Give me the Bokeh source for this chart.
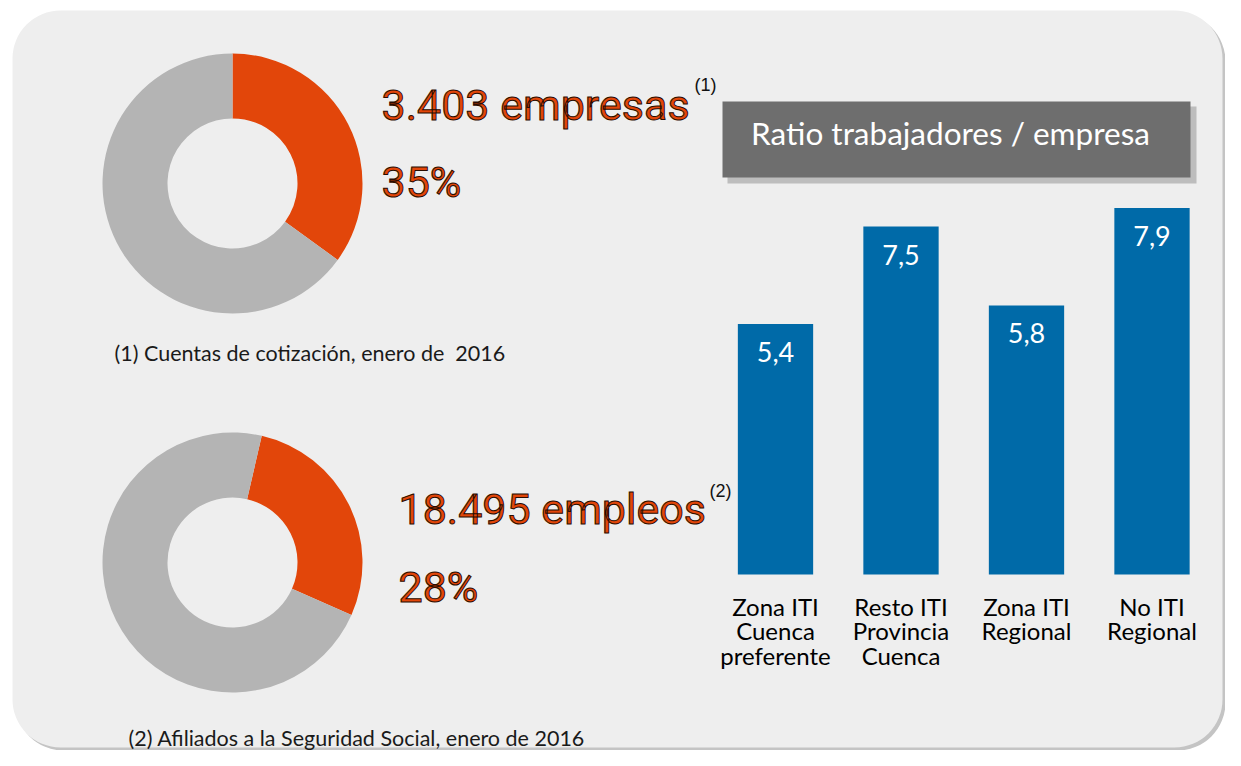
import math
from bokeh.plotting import figure
from bokeh.models import Range1d, BoxAnnotation, ColumnDataSource
from bokeh.core.properties import value
from bokeh.embed import file_html
from bokeh.resources import INLINE

# ---------------- data ----------------
empresas_total = "3.403 empresas"
empresas_pct = [35, 65]          # share ITI / rest
empleos_total = "18.495 empleos"
empleos_pct = [28, 72]
note_1 = "(1) Cuentas de cotización, enero de\u00a0 2016"
note_2 = "(2) Afiliados a la Seguridad Social, enero de 2016"

chart_title = "Ratio trabajadores / empresa"
categories = ["Zona ITI\nCuenca\npreferente", "Resto ITI\nProvincia\nCuenca",
              "Zona ITI\nRegional", "No ITI\nRegional"]
ratios = [5.4, 7.5, 5.8, 7.9]

# ---------------- layout helpers (page pixels -> figure units) ----------------
W, H = 1225, 750
def fx(ix):
    return ix
def fy(iy):
    return H - iy

ORANGE = "#e2460a"
GRAY = "#b4b4b4"
BLUE = "#006aa8"

p = figure(width=W, height=H, x_range=Range1d(0, W), y_range=Range1d(0, H),
           x_axis_type=None, y_axis_type=None, output_backend="svg",
           toolbar_location=None, min_border=0, outline_line_color=None,
           background_fill_color="white", border_fill_color="white")

def put_text(x, y, txt, font, size, color, align="left", **kw):
    p.text(x=[fx(x)], y=[fy(y)], text=[txt], text_font=value(font),
           text_font_size=size, text_color=color, text_align=align,
           text_baseline="middle", **kw)

# background panel with shadow
p.add_layout(BoxAnnotation(left=fx(15), right=fx(1225), top=fy(13), bottom=fy(750),
                           fill_color="#8a8a8a", fill_alpha=0.5, line_color=None,
                           border_radius=48, level="underlay"))
p.add_layout(BoxAnnotation(left=fx(12), right=fx(1222), top=fy(10), bottom=fy(747),
                           fill_color="#eeeeee", fill_alpha=1, line_color=None,
                           border_radius=48, level="underlay"))

# title box with shadow
p.add_layout(BoxAnnotation(left=fx(727), right=fx(1196), top=fy(106), bottom=fy(183),
                           fill_color="#9c9c9c", fill_alpha=0.6, line_color=None,
                           level="underlay"))
p.add_layout(BoxAnnotation(left=fx(722), right=fx(1190), top=fy(101), bottom=fy(177),
                           fill_color="#6e6e6e", fill_alpha=1, line_color=None,
                           level="underlay"))
put_text(950, 132, chart_title, "Lato", "31.5px", "white", align="center")

# ---------------- donuts ----------------
def donut(shares, rot_deg, cx, cy):
    total = float(sum(shares))
    a = math.pi / 2 - math.radians(rot_deg)
    starts, ends = [], []
    for s in shares:
        span = 2 * math.pi * s / total
        starts.append(a - span)
        ends.append(a)
        a -= span
    src = ColumnDataSource(dict(x=[cx] * len(shares), y=[cy] * len(shares),
                                start=starts, end=ends, color=[ORANGE, GRAY]))
    p.annular_wedge(x="x", y="y", inner_radius=65, outer_radius=130,
                    start_angle="start", end_angle="end", fill_color="color",
                    line_color=None, source=src)

donut(empresas_pct, 0, fx(232), fy(183))
donut(empleos_pct, 13, fx(232), fy(562))

big = dict(text_outline_color="#2a0c00")
put_text(381, 104, empresas_total, "Roboto", "43px", ORANGE, **big)
put_text(381, 181, f"{empresas_pct[0]}%", "Roboto", "43px", ORANGE, **big)
put_text(398, 508, empleos_total, "Roboto", "43px", ORANGE, **big)
put_text(398, 586, f"{empleos_pct[0]}%", "Roboto", "43px", ORANGE, **big)

put_text(694, 84, "(1)", "Liberation Sans", "18px", "#111111")
put_text(709, 490, "(2)", "Liberation Sans", "18px", "#111111")

put_text(114, 352, note_1, "Lato", "21.5px", "#1a1a1a")
put_text(128, 737, note_2, "Lato", "21.5px", "#1a1a1a")

# ---------------- bar chart on its own ranges ----------------
px_per_slot = 125.5
first_center = fx(775)
bx0 = -first_center / px_per_slot
p.extra_x_ranges = {"bx": Range1d(bx0, bx0 + W / px_per_slot)}
px_per_unit = 46.4
base = fy(574)
by0 = -base / px_per_unit
p.extra_y_ranges = {"by": Range1d(by0, by0 + H / px_per_unit)}

bsrc = ColumnDataSource(dict(idx=list(range(len(categories))), ratio=ratios,
                             lab=[f"{v:.1f}".replace(".", ",") for v in ratios],
                             cat=categories, zero=[0] * len(ratios)))
p.vbar(x="idx", top="ratio", bottom=0, width=0.6, source=bsrc, fill_color=BLUE,
       line_color=None, x_range_name="bx", y_range_name="by")
p.text(x="idx", y="ratio", text="lab", source=bsrc, x_range_name="bx", y_range_name="by",
       text_font=value("Lato"), text_font_size="27px", text_color="white",
       text_align="center", text_baseline="middle", y_offset=28)
p.text(x="idx", y="zero", text="cat", source=bsrc, x_range_name="bx", y_range_name="by",
       text_font=value("Lato"), text_font_size="24px", text_color="black",
       text_align="center", text_baseline="top", y_offset=17, text_line_height=0.85)

open("out.html", "w").write(file_html(p, INLINE))
